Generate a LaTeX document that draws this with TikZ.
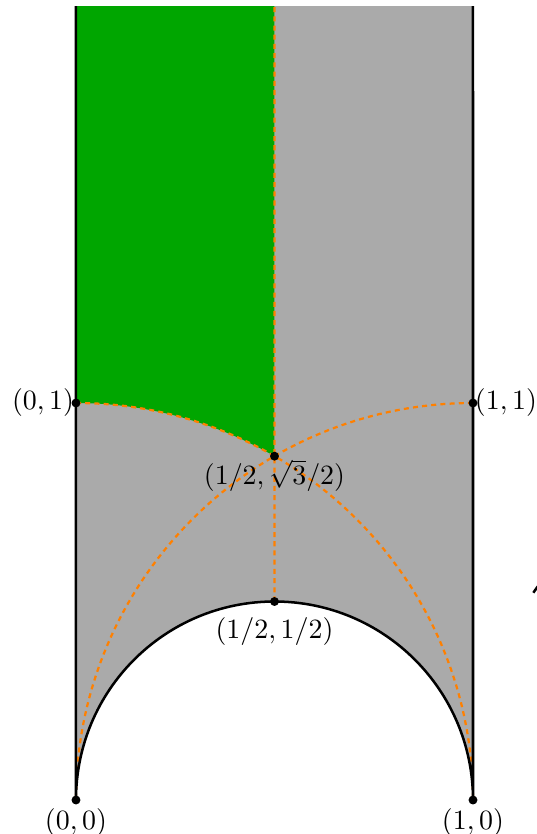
\documentclass[tikz,border=0pt]{standalone}
\usepackage{amsmath,amssymb}
\usepackage{xcolor}
\usepackage{tikz}
\usetikzlibrary{positioning,calc}
\definecolor{fundgreen}{HTML}{00A600}
\definecolor{stripgray}{HTML}{AAAAAA}
\definecolor{arcorange}{HTML}{FF8000}

\begin{document}
\begin{tikzpicture}[scale=5,
  pt/.style={circle,fill=black,inner sep=0pt,minimum size=3.2pt},
  geo/.style={arcorange,line width=0.8pt,dash pattern=on 1.8pt off 1.5pt},
  lab/.style={inner sep=0pt}]
  \useasboundingbox (-0.1914,-0.0856) rectangle (1.1612,2.0151);
  \coordinate (O) at (0,0);
  \coordinate (A) at (1,0);
  \coordinate (T) at (0,2);
  \coordinate (U) at (1,2);
  \coordinate (M) at (0.5,2);
  % regions
  \fill[stripgray] (O) -- (T) -- (U) -- (A) arc[start angle=0,end angle=180,radius=0.5] -- cycle;
  \fill[fundgreen] (0,1) -- (T) -- (M) -- (0.5,{sqrt(3)/2}) arc[start angle=60,end angle=90,radius=1] -- cycle;
  % geodesics
  \draw[geo] (0,1) arc[start angle=90,end angle=0,radius=1];
  \draw[geo] (1,1) arc[start angle=90,end angle=180,radius=1];
  \draw[geo] (0.5,0.5) -- (M);
  % boundary
  \draw[line width=0.9pt] (T) -- (O) arc[start angle=180,end angle=0,radius=0.5] -- (U);
  \draw[line width=0.9pt] (1.152,0.522) -- (1.163,0.538);
  % points
  \node[pt] (p00) at (0,0) {};
  \node[pt] (p10) at (1,0) {};
  \node[pt] (p01) at (0,1) {};
  \node[pt] (p11) at (1,1) {};
  \node[pt] (ph) at (0.5,0.5) {};
  \node[pt] (pr) at (0.5,{sqrt(3)/2}) {};
  \node[lab,below=3pt of p00.center] (l00) {$(0,0)$};
  \node[lab,below=3pt of p10.center] (l10) {$(1,0)$};
  \node[lab,left=0.5pt of p01.center] (l01) {$(0,1)$};
  \node[lab,right=0.5pt of p11.center] (l11) {$(1,1)$};
  \node[lab,below=5.4pt of ph.center] (lh) {$(1/2,1/2)$};
  \node[lab,below=1pt of pr.center] (lr) {$(1/2,\sqrt{3}/2)$};
\end{tikzpicture}
\end{document}
